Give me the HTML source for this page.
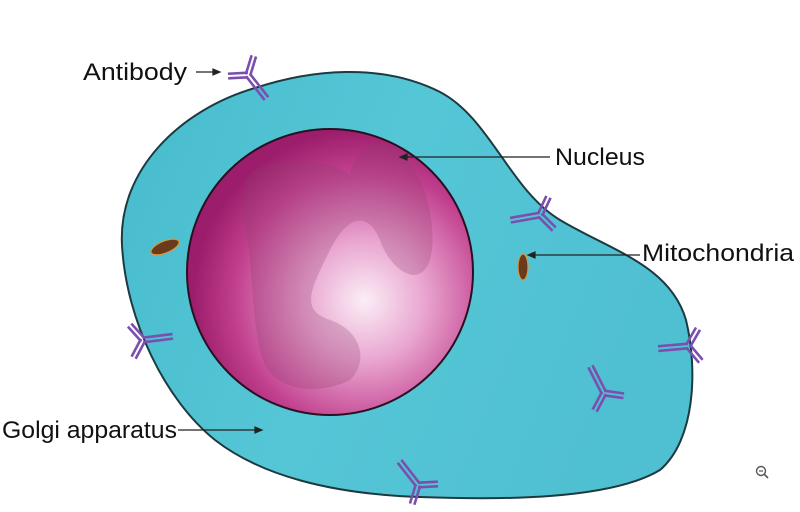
<!DOCTYPE html>
<html><head><style>
html,body{margin:0;padding:0;background:#fff;width:800px;height:512px;overflow:hidden}
text{font-family:"Liberation Sans",sans-serif;font-size:24px;fill:#111}
</style></head><body>
<svg width="800" height="512" viewBox="0 0 800 512" xmlns="http://www.w3.org/2000/svg">
<defs>
<radialGradient id="nuc" cx="0.62" cy="0.6" r="0.6">
<stop offset="0" stop-color="#fbeef7"/>
<stop offset="0.35" stop-color="#e9a6d0"/>
<stop offset="0.75" stop-color="#c2418f"/>
<stop offset="1" stop-color="#9c1d6b"/>
</radialGradient>
<linearGradient id="cyto" x1="0" y1="0" x2="1" y2="0.3">
<stop offset="0" stop-color="#47bccd"/>
<stop offset="0.5" stop-color="#55c6d6"/>
<stop offset="1" stop-color="#4fc0d2"/>
</linearGradient>
<g id="ab" stroke="#7b4fae" stroke-width="2.6" fill="none">
<line x1="0" y1="-2.3" x2="30" y2="-2.3"/><line x1="0" y1="2.3" x2="30" y2="2.3"/>
<g transform="rotate(-125)"><line x1="0" y1="-2.3" x2="20" y2="-2.3"/><line x1="0" y1="2.3" x2="20" y2="2.3"/></g>
<g transform="rotate(125)"><line x1="0" y1="-2.3" x2="20" y2="-2.3"/><line x1="0" y1="2.3" x2="20" y2="2.3"/></g>
</g>
</defs>
<path d="M122,245 C118,170 180,110 255,88 C310,70 380,62 440,92 C490,118 510,190 560,220 C610,250 670,265 686,320 C698,370 695,440 660,470 C610,500 500,500 420,497 C330,494 260,475 215,440 C165,400 126,320 122,245 Z" fill="url(#cyto)" stroke="#1d3a40" stroke-width="2"/>
<circle cx="330" cy="272" r="143" fill="url(#nuc)" stroke="#2a1020" stroke-width="2"/>
<path d="M255,170 C290,155 330,160 350,175 C355,150 370,140 390,145 C420,160 440,220 430,260 C420,290 390,270 380,240 C370,215 350,210 330,250 C310,290 300,310 330,320 C360,330 370,360 350,380 C320,395 280,392 265,365 C250,330 255,270 245,230 C240,200 240,180 255,170 Z" fill="#8a3a6a" opacity="0.25"/>
<ellipse cx="165" cy="247" rx="15" ry="6" transform="rotate(-22 165 247)" fill="#6a3a1c" stroke="#d49a40" stroke-width="1.2"/>
<ellipse cx="523" cy="267" rx="5" ry="13" fill="#6a3a1c" stroke="#d49a40" stroke-width="1.2"/>
<use href="#ab" transform="translate(248,75) rotate(52)"/>
<use href="#ab" transform="translate(540,215) rotate(170)"/>
<use href="#ab" transform="translate(143,340) rotate(-7)"/>
<use href="#ab" transform="translate(688,346) rotate(175)"/>
<use href="#ab" transform="translate(604,393) rotate(-117)"/>
<use href="#ab" transform="translate(418,485) rotate(-128)"/>
<g stroke="#222" stroke-width="1.2" fill="#222">
<line x1="196" y1="72" x2="214" y2="72"/><path d="M220,72 l-7,-3 v6z"/>
<line x1="550" y1="157" x2="406" y2="157"/><path d="M400,157 l7,-3 v6z"/>
<line x1="640" y1="255" x2="534" y2="255"/><path d="M528,255 l7,-3 v6z"/>
<line x1="178" y1="430" x2="256" y2="430"/><path d="M262,430 l-7,-3 v6z"/>
</g>
<text x="83" y="80" textLength="104" lengthAdjust="spacingAndGlyphs">Antibody</text>
<text x="555" y="165" textLength="90" lengthAdjust="spacingAndGlyphs">Nucleus</text>
<text x="642" y="261" textLength="152" lengthAdjust="spacingAndGlyphs">Mitochondria</text>
<text x="2" y="438" textLength="175" lengthAdjust="spacingAndGlyphs">Golgi apparatus</text>
<circle cx="761" cy="471" r="4.5" fill="none" stroke="#555" stroke-width="1.4"/>
<line x1="764.5" y1="474.5" x2="768" y2="478" stroke="#555" stroke-width="1.6"/>
<line x1="759" y1="471" x2="763" y2="471" stroke="#555" stroke-width="1.2"/>
</svg>
</body></html>
